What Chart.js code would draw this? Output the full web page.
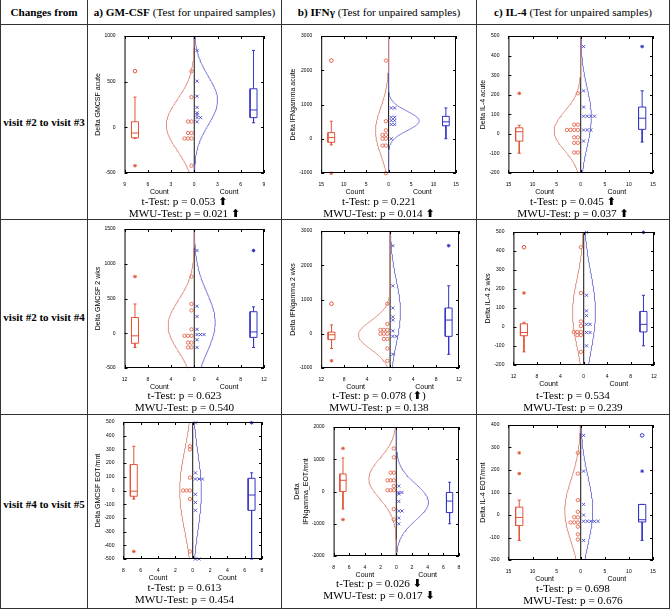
<!DOCTYPE html>
<html lang="en">
<head>
<meta charset="UTF-8">
<title>Changes from visit to visit - GM-CSF, IFNγ, IL-4</title>
<script src="https://cdn.jsdelivr.net/npm/chart.js@4"></script>
<style>
    body { margin: 0; background: #fff; }
    #sheet { position: relative; width: 670px; height: 609px; font-family: "Liberation Serif", serif; color: #000; overflow: hidden; }
    .vl { position: absolute; top: 0; width: 1px; height: 609px; background: #333; }
    .hl { position: absolute; left: 0; width: 670px; height: 1px; background: #333; }
    .head { position: absolute; top: 1px; height: 23px; line-height: 23px; text-align: center; font-size: 11.2px; white-space: nowrap; }
    .rowlab { position: absolute; left: 1px; width: 86px; text-align: center; font-weight: bold; font-size: 11px; white-space: nowrap; }
    .panel { position: absolute; }
    .panel canvas { position: absolute; }
    .ptext { position: absolute; left: 0; right: 0; text-align: center; font-size: 11.2px; line-height: 12px; white-space: nowrap; }
    .ptext div { height: 12px; }
    .arr { font-family: "DejaVu Sans", sans-serif; font-size: 11px; font-weight: bold; line-height: 8px; }
</style>
</head>
<body>
<div id="sheet">
    <div class="vl" style="left:0"></div>
    <div class="vl" style="left:87px"></div>
    <div class="vl" style="left:281px"></div>
    <div class="vl" style="left:476px"></div>
    <div class="vl" style="left:669px"></div>
    <div class="hl" style="top:24px"></div>
    <div class="hl" style="top:219px"></div>
    <div class="hl" style="top:414px"></div>
    <div class="hl" style="top:608px"></div>

    <div class="head" style="left:1px;width:86px"><b>Changes from</b></div>
    <div class="head" style="left:88px;width:193px"><b>a) GM-CSF</b> (Test for unpaired samples)</div>
    <div class="head" style="left:282px;width:194px"><b>b) IFNγ</b> (Test for unpaired samples)</div>
    <div class="head" style="left:477px;width:192px"><b>c) IL-4</b> (Test for unpaired samples)</div>

    <div class="rowlab" style="top:116px">visit #2 to visit #3</div>
    <div class="rowlab" style="top:311px">visit #2 to visit #4</div>
    <div class="rowlab" style="top:498px">visit #4 to visit #5</div>

    <!-- row 1 -->
    <div class="panel" style="left:88px;top:25px;width:193px;height:194px">
        <canvas id="c11" width="176" height="166" style="left:5px;top:6px"></canvas>
        <div class="ptext" style="top:170px"><div>t-Test: p = 0.053 <span class="arr">⬆</span></div><div>MWU-Test: p = 0.021 <span class="arr">⬆</span></div></div>
    </div>
    <div class="panel" style="left:282px;top:25px;width:194px;height:194px">
        <canvas id="c12" width="173" height="166" style="left:6px;top:6px"></canvas>
        <div class="ptext" style="top:170px"><div>t-Test: p = 0.221</div><div>MWU-Test: p = 0.014 <span class="arr">⬆</span></div></div>
    </div>
    <div class="panel" style="left:477px;top:25px;width:192px;height:194px">
        <canvas id="c13" width="180" height="166" style="left:1px;top:6px"></canvas>
        <div class="ptext" style="top:170px"><div>t-Test: p = 0.045 <span class="arr">⬆</span></div><div>MWU-Test: p = 0.037 <span class="arr">⬆</span></div></div>
    </div>

    <!-- row 2 -->
    <div class="panel" style="left:88px;top:220px;width:193px;height:194px">
        <canvas id="c21" width="176" height="168" style="left:5px;top:4px"></canvas>
        <div class="ptext" style="top:169px"><div>t-Test: p = 0.623</div><div>MWU-Test: p = 0.540</div></div>
    </div>
    <div class="panel" style="left:282px;top:220px;width:194px;height:194px">
        <canvas id="c22" width="176" height="166" style="left:6px;top:6px"></canvas>
        <div class="ptext" style="top:169px"><div>t-Test: p = 0.078 (<span class="arr">⬆</span>)</div><div>MWU-Test: p = 0.138</div></div>
    </div>
    <div class="panel" style="left:477px;top:220px;width:192px;height:194px">
        <canvas id="c23" width="176" height="162" style="left:6px;top:7px"></canvas>
        <div class="ptext" style="top:169px"><div>t-Test: p = 0.534</div><div>MWU-Test: p = 0.239</div></div>
    </div>

    <!-- row 3 -->
    <div class="panel" style="left:88px;top:415px;width:193px;height:193px">
        <canvas id="c31" width="174" height="166" style="left:5px;top:2px"></canvas>
        <div class="ptext" style="top:166px"><div>t-Test: p = 0.613</div><div>MWU-Test: p = 0.454</div></div>
    </div>
    <div class="panel" style="left:282px;top:415px;width:194px;height:193px">
        <canvas id="c32" width="172" height="158" style="left:10px;top:7px"></canvas>
        <div class="ptext" style="top:162px"><div>t-Test: p = 0.026 <span class="arr">⬇</span></div><div>MWU-Test: p = 0.017 <span class="arr">⬇</span></div></div>
    </div>
    <div class="panel" style="left:477px;top:415px;width:192px;height:193px">
        <canvas id="c33" width="180" height="164" style="left:1px;top:5px"></canvas>
        <div class="ptext" style="top:167px"><div>t-Test: p = 0.698</div><div>MWU-Test: p = 0.676</div></div>
    </div>
</div>

<script>
    // ---- data ----
    // red = earlier visit group (left half), blue = later visit group (right half)
    // box = [lower whisker, q1, median, q3, upper whisker]; fit = [mean, sd, peak count]

    // GM-CSF, visit #2 -> #3
    const gmAcuteRed = [615, 331, 64, 64, -62, -62, -122, -122, -122, -420];
    const gmAcuteBlue = [842, 506, 341, 218, 159, 138, 106, 106, 61];
    const gmAcuteRedBox = [-122, -115, -62, 61, 331];
    const gmAcuteBlueBox = [50, 106, 190, 422, 842];
    const gmAcuteRedOut = [615, -420];
    const gmAcuteBlueOut = [];
    const gmAcuteRedFit = [26, 280, 3.6];
    const gmAcuteBlueFit = [295, 265, 3.0];

    // IFNgamma, visit #2 -> #3
    const ifnAcuteRed = [2284, 512, 246, 114, 114, 0, 0, -199, -199, -1005];
    const ifnAcuteBlue = [900, 900, 626, 626, 531, 531, 417, 417, 0];
    const ifnAcuteRedBox = [-180, -104, 38, 180, 512];
    const ifnAcuteBlueBox = [0, 380, 493, 654, 900];
    const ifnAcuteRedOut = [2284, -1005];
    const ifnAcuteBlueOut = [];
    const ifnAcuteRedFit = [230, 680, 2.9];
    const ifnAcuteBlueFit = [520, 285, 6.8];

    // IL-4, visit #2 -> #3
    const il4AcuteRed = [207, 47, 47, 20, 20, 20, 20, -18, -18, -46, -46, -95, -95];
    const il4AcuteBlue = [446, 220, 137, 90, 90, 90, 90, 20, 20, 20, -37];
    const il4AcuteRedBox = [-99, -37, 11, 31, 44];
    const il4AcuteBlueBox = [-42, 23, 80, 137, 220];
    const il4AcuteRedOut = [207];
    const il4AcuteBlueOut = [446];
    const il4AcuteRedFit = [15, 100, 5.5];
    const il4AcuteBlueFit = [85, 150, 2.2];

    // GM-CSF, visit #2 -> #4
    const gm2wRed = [815, 421, 329, 56, -37, -37, -37, -134, -134, -204, -204];
    const gm2wBlue = [1190, 389, 241, 56, -19, -19, -19, -93, -204];
    const gm2wRedBox = [-204, -144, -37, 227, 421];
    const gm2wBlueBox = [-204, -60, 19, 310, 380];
    const gm2wRedOut = [815];
    const gm2wBlueOut = [1190];
    const gm2wRedFit = [110, 368, 4.5];
    const gm2wBlueFit = [157, 430, 3.6];

    // IFNgamma, visit #2 -> #4
    const ifn2wRed = [876, 286, 114, 114, 114, 0, 0, 0, -152, -152, -429, -790];
    const ifn2wBlue = [2571, 1400, 752, 495, 400, 86, -76, -76, -600];
    const ifn2wRedBox = [-429, -171, -29, 48, 257];
    const ifn2wBlueBox = [-600, -76, 400, 752, 1400];
    const ifn2wRedOut = [876, -790];
    const ifn2wBlueOut = [2571];
    const ifn2wRedFit = [-40, 420, 5.5];
    const ifn2wBlueFit = [640, 920, 1.8];

    // IL-4, visit #2 -> #4
    const il42wRed = [420, 179, 29, 5, -26, -26, -26, -43, -43, -131];
    const il42wBlue = [498, 167, 85, 60, 14, 14, -29, -29, -99];
    const il42wRedBox = [-131, -46, -29, 17, 25];
    const il42wBlueBox = [-99, -26, 14, 82, 167];
    const il42wRedOut = [420, 179];
    const il42wBlueOut = [498];
    const il42wRedFit = [75, 177, 1.9];
    const il42wBlueFit = [77, 208, 2.0];

    // GM-CSF, visit #4 -> #5
    const gmEotRed = [323, 300, 94, 0, 0, 0, -63, -445];
    const gmEotBlue = [494, 129, 84, 84, 84, -28, -87, -145, -500, -500];
    const gmEotRedBox = [-63, -42, -5, 190, 323];
    const gmEotBlueBox = [-500, -145, -33, 89, 129];
    const gmEotRedOut = [-445];
    const gmEotBlueOut = [494];
    const gmEotRedFit = [0, 300, 1.5];
    const gmEotBlueFit = [-10, 280, 1.0];

    // IFNgamma, visit #4 -> #5
    const ifnEotRed = [1337, 1059, 584, 584, 347, 347, 347, 168, 40, 40, 40, -545, -871];
    const ifnEotBlue = [168, -30, -30, -80, -307, -604, -604, -822, -1000];
    const ifnEotRedBox = [-545, 0, 347, 545, 1040];
    const ifnEotBlueBox = [-1000, -653, -297, -30, 287];
    const ifnEotRedOut = [1337, -871];
    const ifnEotBlueOut = [];
    const ifnEotRedFit = [400, 620, 3.5];
    const ifnEotBlueFit = [-330, 560, 4.1];

    // IL-4, visit #4 -> #5
    const il4EotRed = [276, 184, 66, 14, -10, -10, -33, -33, -33, -52, -86, -109];
    const il4EotBlue = [354, 195, 47, 0, -28, -28, -28, -28, -28, -113];
    const il4EotRedBox = [-113, -47, -11, 35, 66];
    const il4EotBlueBox = [-113, -31, -21, 47, 47];
    const il4EotRedOut = [276, 184];
    const il4EotBlueOut = [354, 195];
    const il4EotRedFit = [20, 138, 3.3];
    const il4EotBlueFit = [20, 150, 2.5];

    var RED = '#e2553a', RED_FIT = '#d98472';
    var BLUE = '#3535c8', BLUE_FIT = '#6a6ad6';
    var SANS = '"Liberation Sans", Arial, sans-serif';

    // each panel: canvas id, axis ranges, y title, and which arrays to draw
    var panels = [
        { id: 'c11', xMax: 9, xStep: 3, yMin: -500, yMax: 1000, yStep: 500, title: 'Delta GMCSF acute',
          red: gmAcuteRed, blue: gmAcuteBlue, redBox: gmAcuteRedBox, blueBox: gmAcuteBlueBox,
          redOut: gmAcuteRedOut, redMarks: ['circle', 'star'], blueOut: gmAcuteBlueOut, blueMarks: [],
          redFit: gmAcuteRedFit, blueFit: gmAcuteBlueFit },
        { id: 'c12', xMax: 15, xStep: 5, yMin: -1000, yMax: 3000, yStep: 1000, title: 'Delta IFNgamma acute',
          red: ifnAcuteRed, blue: ifnAcuteBlue, redBox: ifnAcuteRedBox, blueBox: ifnAcuteBlueBox,
          redOut: ifnAcuteRedOut, redMarks: ['circle', 'star'], blueOut: ifnAcuteBlueOut, blueMarks: [],
          redFit: ifnAcuteRedFit, blueFit: ifnAcuteBlueFit },
        { id: 'c13', xMax: 15, xStep: 5, yMin: -200, yMax: 500, yStep: 100, title: 'Delta IL-4 acute',
          red: il4AcuteRed, blue: il4AcuteBlue, redBox: il4AcuteRedBox, blueBox: il4AcuteBlueBox,
          redOut: il4AcuteRedOut, redMarks: ['star'], blueOut: il4AcuteBlueOut, blueMarks: ['star'],
          redFit: il4AcuteRedFit, blueFit: il4AcuteBlueFit },
        { id: 'c21', xMax: 12, xStep: 4, yMin: -500, yMax: 1500, yStep: 500, title: 'Delta GMCSF 2 wks',
          red: gm2wRed, blue: gm2wBlue, redBox: gm2wRedBox, blueBox: gm2wBlueBox,
          redOut: gm2wRedOut, redMarks: ['star'], blueOut: gm2wBlueOut, blueMarks: ['star'],
          redFit: gm2wRedFit, blueFit: gm2wBlueFit },
        { id: 'c22', xMax: 12, xStep: 4, yMin: -1000, yMax: 3000, yStep: 1000, title: 'Delta IFNgamma 2 wks',
          red: ifn2wRed, blue: ifn2wBlue, redBox: ifn2wRedBox, blueBox: ifn2wBlueBox,
          redOut: ifn2wRedOut, redMarks: ['circle', 'star'], blueOut: ifn2wBlueOut, blueMarks: ['star'],
          redFit: ifn2wRedFit, blueFit: ifn2wBlueFit },
        { id: 'c23', xMax: 12, xStep: 4, yMin: -200, yMax: 500, yStep: 100, title: 'Delta IL-4 2 wks',
          red: il42wRed, blue: il42wBlue, redBox: il42wRedBox, blueBox: il42wBlueBox,
          redOut: il42wRedOut, redMarks: ['circle', 'star'], blueOut: il42wBlueOut, blueMarks: ['star'],
          redFit: il42wRedFit, blueFit: il42wBlueFit },
        { id: 'c31', xMax: 8, xStep: 2, yMin: -500, yMax: 500, yStep: 100, title: 'Delta GMCSF EOT/mnt',
          red: gmEotRed, blue: gmEotBlue, redBox: gmEotRedBox, blueBox: gmEotBlueBox,
          redOut: gmEotRedOut, redMarks: ['star'], blueOut: gmEotBlueOut, blueMarks: ['star'],
          redFit: gmEotRedFit, blueFit: gmEotBlueFit },
        { id: 'c32', xMax: 8, xStep: 2, yMin: -2000, yMax: 2000, yStep: 1000, title: ['Delta', 'IFNgamma_EOT/mnt'],
          red: ifnEotRed, blue: ifnEotBlue, redBox: ifnEotRedBox, blueBox: ifnEotBlueBox,
          redOut: ifnEotRedOut, redMarks: ['star', 'star'], blueOut: ifnEotBlueOut, blueMarks: [],
          redFit: ifnEotRedFit, blueFit: ifnEotBlueFit },
        { id: 'c33', xMax: 15, xStep: 5, yMin: -200, yMax: 400, yStep: 100, title: 'Delta IL-4 EOT/mnt',
          red: il4EotRed, blue: il4EotBlue, redBox: il4EotRedBox, blueBox: il4EotBlueBox,
          redOut: il4EotRedOut, redMarks: ['star', 'star'], blueOut: il4EotBlueOut, blueMarks: ['circle', 'star'],
          redFit: il4EotRedFit, blueFit: il4EotBlueFit }
    ];

    // dot strip next to the zero line, repeated values pushed sideways
    function stripPoints(vals, sign, xMax) {
        var seen = {};
        return vals.map(function (v) {
            var k = seen[v] || 0;
            seen[v] = k + 1;
            return { x: sign * (0.04 + 0.05 * k) * xMax, y: v };
        });
    }

    // normal fit drawn sideways as count vs value
    function fitPoints(fit, sign, yMin, yMax) {
        var pts = [];
        for (var i = 0; i <= 120; i++) {
            var y = yMin + (yMax - yMin) * i / 120;
            var z = (y - fit[0]) / fit[1];
            pts.push({ x: sign * fit[2] * Math.exp(-z * z / 2), y: y });
        }
        return pts;
    }

    // box + whiskers as one broken line
    function boxPoints(s, xc, hw, cw) {
        var gap = { x: xc, y: null };
        return [
            { x: xc - hw, y: s[1] }, { x: xc + hw, y: s[1] }, { x: xc + hw, y: s[3] }, { x: xc - hw, y: s[3] }, { x: xc - hw, y: s[1] }, gap,
            { x: xc - hw, y: s[2] }, { x: xc + hw, y: s[2] }, gap,
            { x: xc, y: s[3] }, { x: xc, y: s[4] }, gap,
            { x: xc, y: s[1] }, { x: xc, y: s[0] }, gap,
            { x: xc - cw, y: s[4] }, { x: xc + cw, y: s[4] }, gap,
            { x: xc - cw, y: s[0] }, { x: xc + cw, y: s[0] }
        ];
    }

    // matlab style frame with inward ticks, plus the two "Count" labels
    var framePlugin = {
        id: 'frame',
        afterDatasetsDraw: function (chart) {
            var ctx = chart.ctx, a = chart.chartArea, xs = chart.scales.x, ys = chart.scales.y;
            ctx.save();
            ctx.strokeStyle = '#000';
            ctx.lineWidth = 1;
            ctx.strokeRect(a.left + 0.5, a.top + 0.5, a.width - 1, a.height - 1);
            ctx.beginPath();
            xs.ticks.forEach(function (t) {
                var px = Math.round(xs.getPixelForValue(t.value)) + 0.5;
                ctx.moveTo(px, a.bottom); ctx.lineTo(px, a.bottom - 3);
                ctx.moveTo(px, a.top); ctx.lineTo(px, a.top + 3);
            });
            ys.ticks.forEach(function (t) {
                var py = Math.round(ys.getPixelForValue(t.value)) + 0.5;
                ctx.moveTo(a.left, py); ctx.lineTo(a.left + 3, py);
                ctx.moveTo(a.right, py); ctx.lineTo(a.right - 3, py);
            });
            ctx.stroke();
            ctx.fillStyle = '#000';
            ctx.font = '7px ' + SANS;
            ctx.textAlign = 'center';
            ctx.textBaseline = 'top';
            ctx.fillText('Count', xs.getPixelForValue(-xs.max / 2), xs.bottom);
            ctx.fillText('Count', xs.getPixelForValue(xs.max / 2), xs.bottom);
            ctx.restore();
        }
    };

    function drawPanel(p) {
        var bx = 0.85 * p.xMax, hw = 0.05 * p.xMax, cw = 0.022 * p.xMax;
        var line = { type: 'scatter', showLine: true, pointRadius: 0, spanGaps: false, fill: false };
        var datasets = [
            Object.assign({}, line, { data: fitPoints(p.redFit, -1, p.yMin, p.yMax), borderColor: RED_FIT, borderWidth: 0.9 }),
            Object.assign({}, line, { data: fitPoints(p.blueFit, 1, p.yMin, p.yMax), borderColor: BLUE_FIT, borderWidth: 0.9 }),
            Object.assign({}, line, { data: [{ x: 0, y: p.yMin }, { x: 0, y: p.yMax }], borderColor: '#111', borderWidth: 1 }),
            { type: 'scatter', data: stripPoints(p.red, -1, p.xMax), pointStyle: 'circle', pointRadius: 1.7,
              borderColor: RED, backgroundColor: 'rgba(0,0,0,0)', borderWidth: 0.8 },
            { type: 'scatter', data: stripPoints(p.blue, 1, p.xMax), pointStyle: 'crossRot', pointRadius: 2.2,
              borderColor: BLUE, borderWidth: 0.8 },
            Object.assign({}, line, { data: boxPoints(p.redBox, -bx, hw, cw), borderColor: RED, borderWidth: 1 }),
            Object.assign({}, line, { data: boxPoints(p.blueBox, bx, hw, cw), borderColor: BLUE, borderWidth: 1 }),
            { type: 'scatter', data: p.redOut.map(function (v) { return { x: -bx, y: v }; }),
              pointStyle: p.redMarks, pointRadius: 1.8, borderColor: RED, backgroundColor: 'rgba(0,0,0,0)', borderWidth: 1 },
            { type: 'scatter', data: p.blueOut.map(function (v) { return { x: bx, y: v }; }),
              pointStyle: p.blueMarks, pointRadius: 1.8, borderColor: BLUE, backgroundColor: 'rgba(0,0,0,0)', borderWidth: 1 }
        ];

        new Chart(document.getElementById(p.id), {
            type: 'scatter',
            data: { datasets: datasets },
            options: {
                responsive: false,
                animation: false,
                events: [],
                clip: false,
                layout: { padding: { top: 2, right: 4, bottom: 8, left: 0 } },
                plugins: { legend: { display: false }, tooltip: { enabled: false } },
                scales: {
                    x: {
                        type: 'linear', min: -p.xMax, max: p.xMax,
                        grid: { display: false }, border: { display: false },
                        ticks: { stepSize: p.xStep, autoSkip: false, maxRotation: 0, padding: 1, color: '#000',
                                 font: { size: 5, family: SANS },
                                 callback: function (v) { return String(Math.abs(v)); } }
                    },
                    y: {
                        min: p.yMin, max: p.yMax,
                        grid: { display: false }, border: { display: false },
                        ticks: { stepSize: p.yStep, autoSkip: false, padding: 1, color: '#000', font: { size: 5, family: SANS },
                                 callback: function (v) { return String(v); } },
                        title: { display: true, text: p.title, color: '#000', padding: 1, font: { size: 7, family: SANS } }
                    }
                }
            },
            plugins: [framePlugin]
        });
    }

    panels.forEach(drawPanel);
</script>
</body>
</html>
